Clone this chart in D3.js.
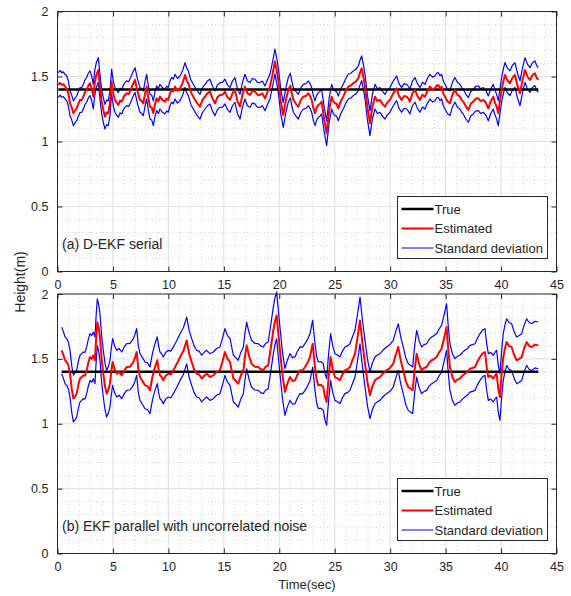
<!DOCTYPE html>
<html>
<head>
<meta charset="utf-8">
<script src="https://cdn.jsdelivr.net/npm/d3@7"></script>
<style>
  html, body { margin: 0; padding: 0; background: #fff; }
  svg { display: block; }
  text { font-family: "Liberation Sans", Arial, sans-serif; fill: #262626; }
</style>
</head>
<body>
<svg id="chart" width="571" height="596"></svg>
<script>
// ---- data ----
const xTicks = [0, 5, 10, 15, 20, 25, 30, 35, 40, 45];
const yTicks = [0, 0.5, 1, 1.5, 2];
const trueHeight = 1.4;

// (a) D-EKF serial: time (s) and estimated height (m)
const timeA = [
  0.08,0.23,0.38,0.53,0.68,0.83,0.98,1.13,1.28,1.43,
  1.58,1.73,1.88,2.03,2.18,2.33,2.48,2.63,2.78,2.93,
  3.08,3.23,3.36,3.5,3.68,3.83,3.98,4.13,4.28,4.43,
  4.58,4.73,4.88,5.03,5.18,5.33,5.49,5.64,5.79,6.01,
  6.24,6.42,6.6,6.8,6.99,7.2,7.44,7.6,7.74,7.9,
  8.04,8.2,8.34,8.5,8.64,8.8,8.94,9.1,9.24,9.46,
  9.69,9.84,9.99,10.14,10.29,10.45,10.6,10.82,11.05,11.28,
  11.5,11.65,11.8,12.02,12.25,12.55,12.85,13.08,13.3,13.52,
  13.75,13.98,14.2,14.42,14.65,14.88,15.1,15.33,15.56,15.78,
  16,16.23,16.46,16.68,16.9,17.13,17.36,17.58,17.8,18.03,
  18.26,18.48,18.71,18.94,19.16,19.4,19.61,19.76,19.91,20.13,
  20.36,20.6,20.81,21,21.13,21.27,21.5,21.72,21.95,22.17,
  22.4,22.62,22.77,22.92,23.07,23.22,23.37,23.52,23.67,23.82,
  24.05,24.27,24.5,24.72,24.87,25.02,25.17,25.32,25.55,25.77,
  26,26.22,26.45,26.68,26.9,27.13,27.28,27.43,27.58,27.73,
  27.95,28.18,28.4,28.63,28.85,29.08,29.3,29.53,29.75,29.98,
  30.28,30.58,30.8,31.03,31.26,31.49,31.63,31.78,32.01,32.24,
  32.46,32.69,32.91,33.14,33.36,33.59,33.81,34.04,34.19,34.34,
  34.49,34.64,34.79,34.94,35.16,35.39,35.61,35.84,36.06,36.29,
  36.44,36.59,36.82,37.05,37.27,37.5,37.72,37.95,38.17,38.4,
  38.62,38.85,39.07,39.3,39.45,39.6,39.75,39.9,40.05,40.2,
  40.35,40.57,40.8,41.02,41.25,41.48,41.71,41.93,42.16,42.38,
  42.61,42.83,43.06,43.21,43.36];
const estA = [
  1.435,1.452,1.435,1.441,1.422,1.409,1.37,1.294,1.262,1.217,
  1.238,1.255,1.29,1.32,1.318,1.345,1.38,1.397,1.43,1.448,
  1.41,1.345,1.45,1.512,1.55,1.422,1.31,1.243,1.191,1.225,
  1.217,1.294,1.461,1.37,1.32,1.3,1.281,1.315,1.307,1.35,
  1.371,1.365,1.397,1.44,1.473,1.39,1.32,1.31,1.294,1.37,
  1.422,1.33,1.268,1.26,1.217,1.29,1.332,1.31,1.345,1.32,
  1.307,1.33,1.32,1.37,1.397,1.385,1.422,1.39,1.409,1.45,
  1.512,1.47,1.448,1.38,1.345,1.3,1.268,1.32,1.345,1.37,
  1.384,1.33,1.294,1.34,1.358,1.36,1.384,1.34,1.32,1.37,
  1.397,1.31,1.268,1.36,1.422,1.37,1.358,1.39,1.384,1.36,
  1.358,1.37,1.332,1.38,1.422,1.52,1.615,1.55,1.473,1.31,
  1.204,1.32,1.397,1.43,1.37,1.32,1.29,1.268,1.32,1.345,
  1.35,1.371,1.35,1.32,1.26,1.217,1.26,1.281,1.29,1.307,
  1.17,1.063,1.24,1.345,1.31,1.294,1.29,1.255,1.31,1.345,
  1.39,1.422,1.43,1.448,1.46,1.486,1.53,1.563,1.5,1.422,
  1.26,1.14,1.27,1.345,1.31,1.32,1.29,1.268,1.3,1.32,
  1.37,1.409,1.35,1.32,1.35,1.345,1.33,1.307,1.37,1.397,
  1.35,1.32,1.36,1.345,1.39,1.422,1.4,1.409,1.43,1.435,
  1.41,1.422,1.37,1.345,1.31,1.294,1.36,1.397,1.36,1.345,
  1.32,1.307,1.27,1.243,1.29,1.307,1.33,1.332,1.31,1.32,
  1.3,1.255,1.31,1.345,1.3,1.268,1.217,1.31,1.397,1.46,
  1.512,1.47,1.448,1.49,1.512,1.43,1.371,1.47,1.55,1.5,
  1.473,1.51,1.525,1.49,1.473];
const sigmaA = 0.095;

// (b) EKF parallel with uncorrelated noise: time (s) and estimated height (m)
const timeB = [
  0.38,0.53,0.68,0.83,0.98,1.13,1.28,1.43,1.58,1.73,
  1.88,2.03,2.18,2.33,2.48,2.63,2.78,2.93,3.08,3.23,
  3.38,3.48,3.59,3.71,3.83,3.98,4.13,4.28,4.43,4.58,
  4.73,4.85,4.97,5.15,5.34,5.56,5.79,6.01,6.24,6.54,
  6.84,6.99,7.14,7.29,7.44,7.66,7.89,8.11,8.34,8.56,
  8.79,9,9.12,9.24,9.39,9.54,9.76,9.99,10.22,10.45,
  10.75,11.05,11.35,11.65,11.87,12.1,12.32,12.55,12.77,13,
  13.22,13.45,13.75,14.05,14.35,14.65,14.88,15.1,15.33,15.56,
  15.71,15.86,16.08,16.3,16.53,16.76,16.91,17.06,17.28,17.5,
  17.8,18.1,18.33,18.56,18.78,19,19.23,19.46,19.61,19.76,
  19.91,20.06,20.28,20.51,20.73,20.96,21.19,21.42,21.65,21.87,
  22.1,22.32,22.55,22.77,23.01,23.22,23.37,23.52,23.75,23.97,
  24.12,24.27,24.45,24.63,24.82,25.02,25.25,25.47,25.7,25.92,
  26.15,26.37,26.6,26.83,27.05,27.28,27.5,27.73,27.95,28.18,
  28.4,28.63,28.85,29.08,29.38,29.68,29.98,30.28,30.5,30.73,
  30.95,31.18,31.4,31.63,31.83,32.03,32.21,32.39,32.61,32.84,
  33.06,33.29,33.51,33.74,33.96,34.19,34.41,34.64,34.86,35.09,
  35.24,35.39,35.61,35.84,36.06,36.29,36.51,36.74,36.97,37.2,
  37.42,37.65,37.87,38.1,38.32,38.55,38.7,38.85,39.07,39.3,
  39.45,39.6,39.75,39.9,40.05,40.2,40.35,40.5,40.72,40.95,
  41.18,41.41,41.63,41.86,42.08,42.31,42.53,42.76,43.06,43.36];
const estB = [
  1.565,1.53,1.489,1.476,1.45,1.386,1.27,1.194,1.21,1.232,
  1.3,1.348,1.36,1.373,1.37,1.412,1.47,1.514,1.5,1.527,
  1.489,1.65,1.783,1.74,1.668,1.5,1.386,1.29,1.232,1.26,
  1.309,1.4,1.476,1.42,1.386,1.4,1.373,1.41,1.437,1.44,
  1.476,1.51,1.553,1.42,1.36,1.33,1.296,1.29,1.258,1.36,
  1.437,1.489,1.42,1.373,1.36,1.335,1.37,1.386,1.38,1.412,
  1.46,1.514,1.56,1.642,1.54,1.476,1.42,1.386,1.38,1.348,
  1.37,1.386,1.36,1.373,1.4,1.412,1.48,1.553,1.5,1.476,
  1.41,1.348,1.33,1.309,1.37,1.412,1.52,1.604,1.52,1.463,
  1.44,1.437,1.42,1.412,1.44,1.45,1.58,1.719,1.79,1.835,
  1.7,1.565,1.38,1.245,1.31,1.36,1.33,1.335,1.38,1.412,
  1.41,1.437,1.47,1.514,1.617,1.437,1.34,1.296,1.3,1.283,
  1.21,1.168,1.36,1.514,1.42,1.36,1.35,1.335,1.38,1.412,
  1.42,1.437,1.49,1.54,1.66,1.796,1.62,1.463,1.32,1.219,
  1.29,1.335,1.35,1.36,1.39,1.412,1.43,1.463,1.53,1.591,
  1.49,1.412,1.33,1.283,1.27,1.258,1.42,1.54,1.46,1.412,
  1.43,1.437,1.47,1.489,1.5,1.514,1.55,1.578,1.66,1.745,
  1.57,1.437,1.36,1.322,1.34,1.348,1.37,1.386,1.4,1.424,
  1.43,1.437,1.48,1.514,1.54,1.553,1.44,1.36,1.37,1.348,
  1.37,1.386,1.27,1.206,1.38,1.514,1.58,1.629,1.6,1.591,
  1.53,1.489,1.5,1.514,1.58,1.629,1.6,1.591,1.61,1.604];
const sigmaB = 0.18;

const panels = [
  { time: timeA, est: estA, sigma: sigmaA, label: "(a) D-EKF serial", top: 11.5, bottom: 271.5 },
  { time: timeB, est: estB, sigma: sigmaB, label: "(b) EKF parallel with uncorrelated noise", top: 294, bottom: 553.5 }
];

const legendItems = [
  { name: "True", color: "#000000", width: 2.5 },
  { name: "Estimated", color: "#ff0000", width: 2 },
  { name: "Standard deviation", color: "#0000ff", width: 1.2 }
];

// ---- drawing ----
const svg = d3.select("#chart");
const left = 57.5, right = 556.5;
const axisColor = "#262626";

const x = d3.scaleLinear().domain([0, 45]).range([left, right]);

panels.forEach(p => {
  const y = d3.scaleLinear().domain([0, 2]).range([p.bottom, p.top]);
  const g = svg.append("g");

  // minor grid (dotted)
  const minorX = d3.range(1, 45).filter(v => v % 5 !== 0);
  const minorY = d3.range(1, 20).filter(v => v % 5 !== 0).map(v => v / 10);
  g.selectAll(".mgx").data(minorX).join("line")
    .attr("x1", d => x(d)).attr("x2", d => x(d))
    .attr("y1", p.top).attr("y2", p.bottom)
    .attr("stroke", "#c8c8c8").attr("stroke-width", 0.8).attr("stroke-dasharray", "1,2.5");
  g.selectAll(".mgy").data(minorY).join("line")
    .attr("x1", left).attr("x2", right)
    .attr("y1", d => y(d)).attr("y2", d => y(d))
    .attr("stroke", "#c8c8c8").attr("stroke-width", 0.8).attr("stroke-dasharray", "1,2.5");

  // major grid
  g.selectAll(".gx").data(xTicks.slice(1, -1)).join("line")
    .attr("x1", d => x(d)).attr("x2", d => x(d))
    .attr("y1", p.top).attr("y2", p.bottom)
    .attr("stroke", "#e3e3e3").attr("stroke-width", 1.2);
  g.selectAll(".gy").data(yTicks.slice(1, -1)).join("line")
    .attr("x1", left).attr("x2", right)
    .attr("y1", d => y(d)).attr("y2", d => y(d))
    .attr("stroke", "#e3e3e3").attr("stroke-width", 1.2);

  const line = d3.line().x((d, i) => x(p.time[i])).y(d => y(d));

  // standard deviation bounds
  const upper = p.est.map(v => v + p.sigma);
  const lower = p.est.map(v => v - p.sigma);
  [upper, lower].forEach(s => {
    g.append("path").attr("d", line(s))
      .attr("fill", "none").attr("stroke", "#0000ff").attr("stroke-width", 1.2)
      .attr("stroke-linejoin", "round");
  });

  // true height
  const t0 = p.time[0], t1 = p.time[p.time.length - 1];
  g.append("line")
    .attr("x1", x(t0)).attr("x2", x(t1))
    .attr("y1", y(trueHeight)).attr("y2", y(trueHeight))
    .attr("stroke", "#000").attr("stroke-width", 2.5);

  // estimate
  g.append("path").attr("d", line(p.est))
    .attr("fill", "none").attr("stroke", "#ff0000").attr("stroke-width", 2)
    .attr("stroke-linejoin", "round");

  // axes (box with inward ticks)
  const xb = d3.axisBottom(x).tickValues(xTicks).tickSize(-5).tickPadding(9).tickFormat(d3.format("d"));
  const xt = d3.axisTop(x).tickValues(xTicks).tickSize(-5).tickFormat("");
  const yl = d3.axisLeft(y).tickValues(yTicks).tickSize(-5).tickPadding(9).tickFormat(d => d3.format("")(d));
  const yr = d3.axisRight(y).tickValues(yTicks).tickSize(-5).tickFormat("");

  const styleAxis = sel => {
    sel.select(".domain").attr("stroke", axisColor).attr("stroke-width", 1);
    sel.selectAll(".tick line").attr("stroke", axisColor);
    sel.selectAll(".tick text").attr("fill", axisColor).style("font-size", "12.5px")
      .style("font-family", "'Liberation Sans', Arial, sans-serif");
  };
  g.append("g").attr("transform", `translate(0,${p.bottom})`).call(xb).call(styleAxis);
  g.append("g").attr("transform", `translate(0,${p.top})`).call(xt).call(styleAxis);
  g.append("g").attr("transform", `translate(${left},0)`).call(yl).call(styleAxis);
  g.append("g").attr("transform", `translate(${right},0)`).call(yr).call(styleAxis);
  g.selectAll(".domain").attr("d", null);
  g.append("rect").attr("x", left).attr("y", p.top)
    .attr("width", right - left).attr("height", p.bottom - p.top)
    .attr("fill", "none").attr("stroke", axisColor).attr("stroke-width", 1);

  // panel label
  g.append("text").attr("x", 62).attr("y", p.bottom - 23)
    .style("font-size", "14px").text(p.label);

  // legend
  const lx = 397.5, ly = p.bottom - 75, lw = 150, lh = 62;
  const lg = g.append("g");
  lg.append("rect").attr("x", lx).attr("y", ly).attr("width", lw).attr("height", lh)
    .attr("fill", "#fff").attr("stroke", axisColor).attr("stroke-width", 1);
  legendItems.forEach((it, i) => {
    const yy = ly + 12.5 + i * 19.5;
    lg.append("line").attr("x1", lx + 4).attr("x2", lx + 36).attr("y1", yy).attr("y2", yy)
      .attr("stroke", it.color).attr("stroke-width", it.width);
    lg.append("text").attr("x", lx + 37).attr("y", yy + 4.5)
      .style("font-size", "13px").text(it.name);
  });
});

// axis titles
svg.append("text").attr("x", 307).attr("y", 589).attr("text-anchor", "middle")
  .style("font-size", "13px").text("Time(sec)");
svg.append("text").attr("transform", "translate(25,282) rotate(-90)").attr("text-anchor", "middle")
  .style("font-size", "14px").text("Height(m)");
</script>
</body>
</html>
